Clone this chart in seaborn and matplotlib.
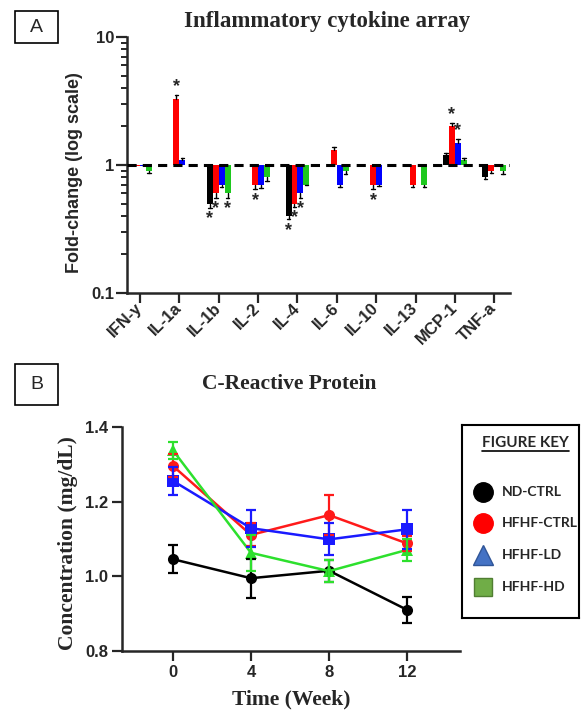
import numpy as np
import pandas as pd
import matplotlib
matplotlib.use("Agg")
import matplotlib.pyplot as plt
import seaborn as sns
from matplotlib.patches import Rectangle
from matplotlib.ticker import FixedLocator

# ---------------- data ----------------
cytokines = ["IFN-y", "IL-1a", "IL-1b", "IL-2", "IL-4", "IL-6", "IL-10", "IL-13", "MCP-1", "TNF-a"]
groups = ["ND-CTRL", "HFHF-CTRL", "HFHF-LD", "HFHF-HD"]

fc_nd   = [1.00, 1.00, 0.50, 1.00, 0.40, 1.00, 1.00, 1.00, 1.20, 0.80]
fc_ctrl = [0.99, 3.26, 0.60, 0.70, 0.50, 1.30, 0.70, 0.70, 2.02, 0.90]
fc_ld   = [0.99, 1.09, 0.70, 0.70, 0.60, 0.70, 0.70, 1.00, 1.49, 1.00]
fc_hd   = [0.90, 1.00, 0.60, 0.80, 0.70, 0.90, 1.00, 0.70, 1.09, 0.90]

err_nd   = [0.0, 0.0, 0.036, 0.0, 0.023, 0.0, 0.0, 0.0, 0.05, 0.027]
err_ctrl = [0.0, 0.25, 0.044, 0.054, 0.027, 0.08, 0.054, 0.023, 0.12, 0.04]
err_ld   = [0.0, 0.05, 0.027, 0.035, 0.044, 0.023, 0.015, 0.0, 0.11, 0.0]
err_hd   = [0.04, 0.0, 0.044, 0.05, 0.005, 0.055, 0.0, 0.023, 0.054, 0.044]

sig_nd   = ["IL-1b", "IL-4"]
sig_ctrl = ["IL-1a", "IL-1b", "IL-2", "IL-4", "IL-10", "MCP-1"]
sig_ld   = ["IL-4", "MCP-1"]
sig_hd   = ["IL-1b"]

weeks = [0, 4, 8, 12]
crp_nd   = [1.046, 0.995, 1.015, 0.910]
crp_ctrl = [1.296, 1.111, 1.164, 1.088]
crp_ld   = [1.256, 1.129, 1.099, 1.126]
crp_hd   = [1.338, 1.063, 1.014, 1.071]
sem_nd   = [0.037, 0.052, 0.030, 0.035]
sem_ctrl = [0.031, 0.031, 0.054, 0.020]
sem_ld   = [0.037, 0.050, 0.043, 0.053]
sem_hd   = [0.023, 0.048, 0.030, 0.030]

yticks_a = [0.1, 1, 10]
xticks_b = [0, 4, 8, 12]
yticks_b = [0.8, 1.0, 1.2, 1.4]

# ---------------- style ----------------
sns.set_style("ticks")
plt.rcParams["font.family"] = ["Liberation Sans", "DejaVu Sans"]
SERIF = ["Liberation Serif", "DejaVu Serif"]

bar_colors = ["#000000", "#ff0000", "#0000ff", "#1ec81e"]
line_colors = ["#000000", "#ff1a1a", "#1a1aff", "#2de02d"]

W, H = 581, 711
fig = plt.figure(figsize=(W / 100, H / 100), dpi=100)

def fx(px):
    return px / W

def fy(py):
    return 1 - py / H

# ---------------- Panel A ----------------
axA = fig.add_axes([fx(127), fy(293), fx(510) - fx(127), fy(37) - fy(293)])

fcs = [fc_nd, fc_ctrl, fc_ld, fc_hd]
errs = [err_nd, err_ctrl, err_ld, err_hd]
sigs = [sig_nd, sig_ctrl, sig_ld, sig_hd]
rows = []
for g, vals in zip(groups, fcs):
    for c, v in zip(cytokines, vals):
        rows.append({"cytokine": c, "group": g, "logfc": np.log10(v)})
df_a = pd.DataFrame(rows)

sns.barplot(data=df_a, x="cytokine", y="logfc", hue="group", order=cytokines,
            hue_order=groups, palette=bar_colors, width=0.6, errorbar=None,
            saturation=1, linewidth=0, legend=False, ax=axA, zorder=2)

patches = sorted(axA.patches, key=lambda p: p.get_x())
k = 0
for ci, c in enumerate(cytokines):
    for gi in range(len(groups)):
        p = patches[k]
        k += 1
        xc = p.get_x() + p.get_width() / 2
        v = fcs[gi][ci]
        e = errs[gi][ci]
        up = v >= 1
        end = v + e if up else v - e
        if e > 0:
            axA.plot([xc, xc], [np.log10(v), np.log10(end)], color="black", lw=1.0, zorder=3)
            axA.plot([xc - 0.045, xc + 0.045], [np.log10(end)] * 2, color="black", lw=1.0, zorder=3)
        if c in sigs[gi]:
            axA.annotate("*", xy=(xc, np.log10(end)), xytext=(0, 0 if up else -2),
                         textcoords="offset points", ha="center",
                         va="bottom" if up else "top", fontsize=13, fontweight="bold")

axA.axhline(0, color="black", lw=2.2, ls=(0, (3, 2)), zorder=4)
axA.set_ylim(-1, 1)
axA.set_xlim(-0.33, 9.4)
axA.set_yticks(np.log10(yticks_a))
axA.set_yticklabels(["0.1", "1", "10"])
minor = [np.log10(m * d) for d in (0.1, 1) for m in range(2, 10)]
axA.yaxis.set_minor_locator(FixedLocator(minor))
axA.tick_params(axis="y", which="major", length=8, width=1.6, labelsize=12, pad=1)
axA.tick_params(axis="y", which="minor", length=4.5, width=1.4)
axA.tick_params(axis="x", which="major", length=7, width=1.6, labelsize=12, pad=2)
for lab in axA.get_xticklabels() + axA.get_yticklabels():
    lab.set_fontweight("bold")
plt.setp(axA.get_xticklabels(), rotation=45, ha="right", va="center", rotation_mode="anchor")
for s in ["left", "bottom"]:
    axA.spines[s].set_linewidth(1.8)
sns.despine(ax=axA)
axA.set_xlabel("")
axA.set_ylabel("Fold-change (log scale)", fontsize=13, fontweight="bold")
axA.yaxis.set_label_coords(-0.136, 0.47)
axA.yaxis.label.set_va("center")
axA.set_title("Inflammatory cytokine array", fontfamily=SERIF, fontweight="bold",
              fontsize=16.5, x=0.522, y=1.027, va="center")

# ---------------- Panel B ----------------
axB = fig.add_axes([fx(122), fy(651), fx(460) - fx(122), fy(427) - fy(651)])
crps = [crp_nd, crp_ctrl, crp_ld, crp_hd]
sems = [sem_nd, sem_ctrl, sem_ld, sem_hd]
rows = []
for g, vals in zip(groups, crps):
    for w, v in zip(weeks, vals):
        rows.append({"week": w, "crp": v, "group": g})
df_b = pd.DataFrame(rows)

sns.lineplot(data=df_b, x="week", y="crp", hue="group", style="group",
             hue_order=groups, style_order=groups, palette=line_colors,
             markers=["o", "o", "s", "^"], dashes=False, markersize=8,
             markeredgewidth=0, linewidth=1.8, legend=False, ax=axB)
for col, vals, s in zip(line_colors, crps, sems):
    axB.errorbar(weeks, vals, yerr=s, fmt="none", ecolor=col, elinewidth=1.6,
                 capsize=3.5, capthick=1.6)

axB.set_xlim(-2.6, 14.7)
axB.set_ylim(0.8, 1.4)
axB.set_xticks(xticks_b)
axB.set_yticks(yticks_b)
axB.set_yticklabels([f"{t:.1f}" for t in yticks_b])
axB.tick_params(axis="both", length=7, width=1.6, labelsize=12, pad=3)
for lab in axB.get_xticklabels() + axB.get_yticklabels():
    lab.set_fontweight("bold")
for s in ["left", "bottom"]:
    axB.spines[s].set_linewidth(1.8)
sns.despine(ax=axB)
axB.set_xlabel("Time (Week)", fontfamily=SERIF, fontweight="bold", fontsize=15.5)
axB.xaxis.set_label_coords(0.5, -0.218)
axB.xaxis.label.set_va("center")
axB.set_ylabel("Concentration (mg/dL)", fontfamily=SERIF, fontweight="bold", fontsize=15.5)
axB.yaxis.set_label_coords(-0.16, 0.48)
axB.yaxis.label.set_va("center")
axB.set_title("C-Reactive Protein", fontfamily=SERIF, fontweight="bold",
              fontsize=15.5, x=0.494, y=1.156, va="center")

# ---------------- Figure key ----------------
axK = fig.add_axes([fx(462), fy(618), fx(579) - fx(462), fy(425) - fy(618)])
axK.set_xlim(0, 1)
axK.set_ylim(0, 1)
axK.set_xticks([])
axK.set_yticks([])
for s in axK.spines.values():
    s.set_visible(True)
    s.set_linewidth(1.5)
    s.set_color("black")
KEYFONT = ["Lato", "DejaVu Sans"]
t = axK.text(0.54, 0.905, "FIGURE KEY", ha="center", va="center", fontsize=11,
             fontweight="bold", fontfamily=KEYFONT)
fig.canvas.draw()
bb = t.get_window_extent().transformed(axK.transAxes.inverted())
axK.plot([bb.x0, bb.x1], [bb.y0 - 0.005, bb.y0 - 0.005], color="black", lw=1.2)

key_markers = ["o", "o", "^", "s"]
key_colors = ["#000000", "#ff0000", "#4472c4", "#70ad47"]
key_edges = ["#000000", "#ff0000", "#2f5597", "#507e32"]
key_y = [0.653, 0.492, 0.326, 0.161]
for m, c, ec, yy, g in zip(key_markers, key_colors, key_edges, key_y, groups):
    axK.plot([0.178], [yy], marker=m, color=c, markeredgecolor=ec,
             markersize=14 if m != "s" else 13, markeredgewidth=1)
    axK.text(0.34, yy, g, ha="left", va="center", fontsize=10, fontfamily=KEYFONT,
             fontweight="bold")

# ---------------- panel letters ----------------
for (x0, y0, x1, y1, letter) in [(15, 11, 58, 43, "A"), (15, 364, 58, 405, "B")]:
    fig.patches.append(Rectangle((fx(x0), fy(y1)), fx(x1) - fx(x0), fy(y0) - fy(y1),
                                 transform=fig.transFigure, fill=False, lw=1.2,
                                 edgecolor="black"))
    fig.text((fx(x0) + fx(x1)) / 2, (fy(y0) + fy(y1)) / 2, letter, ha="center",
             va="center", fontsize=14)

fig.savefig("out.png", dpi=100)
